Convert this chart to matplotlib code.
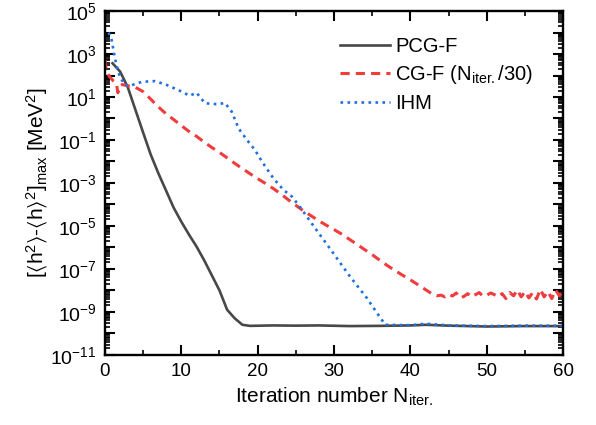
import numpy as np
import matplotlib
matplotlib.use("Agg")
import matplotlib.pyplot as plt
from matplotlib.ticker import LogLocator, FuncFormatter, MultipleLocator, NullFormatter

plt.rcParams['font.family'] = ['Liberation Sans', 'DejaVu Sans']
plt.rcParams['mathtext.fontset'] = 'custom'
plt.rcParams['mathtext.rm'] = 'Liberation Sans'
plt.rcParams['mathtext.it'] = 'Liberation Sans:italic'
plt.rcParams['mathtext.fallback'] = 'stixsans'
plt.rcParams['axes.unicode_minus'] = False

# data (values as log10)
pcg_iter = [1, 2, 3, 4, 5, 6, 7, 8, 9, 10, 11, 12, 13, 14, 15, 16, 17, 18, 19,
            22, 25, 28, 32, 36, 40, 42, 45, 50, 55, 60]
pcg_log = [2.57, 2.18, 1.45, 0.4, -0.65, -1.68, -2.55, -3.35, -4.15, -4.8, -5.4,
           -5.96, -6.6, -7.3, -8.0, -8.9, -9.3, -9.6, -9.65,
           -9.63, -9.64, -9.63, -9.66, -9.65, -9.63, -9.6, -9.64, -9.68, -9.66, -9.66]

cg_iter = [0, 0.2, 0.6, 1.1, 1.5, 1.7, 1.9, 2.3, 3.0, 4.0, 5.0, 6.0, 7.0, 8.0, 9.0,
           10, 11, 12, 13, 14, 15, 16, 17, 18, 19, 20, 21, 22, 23, 24, 25, 26, 27,
           28, 29, 30, 31, 32, 33, 34, 35, 36, 37, 38, 39, 40, 41, 42, 43,
           43.5, 44, 44.5, 45, 45.5, 46, 46.5, 47, 47.5, 48, 48.5, 49, 49.5, 50,
           50.5, 51, 51.5, 52, 52.5, 53, 53.5, 54, 54.5, 55, 55.5, 56, 56.5, 57,
           57.5, 58, 58.5, 59, 59.5, 60]
cg_log = [2.75, 2.2, 1.95, 1.75, 1.65, 1.2, 1.5, 1.58, 1.52, 1.45, 1.25, 0.9, 0.54,
          0.22, -0.05, -0.33, -0.6, -0.83, -1.1, -1.35, -1.58, -1.83, -2.09, -2.33,
          -2.57, -2.8, -3.02, -3.25, -3.5, -3.78, -4.04, -4.3, -4.53, -4.76, -4.97,
          -5.17, -5.38, -5.62, -5.86, -6.1, -6.34, -6.6, -6.85, -7.08, -7.3, -7.51,
          -7.74, -7.97, -8.2,
          -8.25, -8.22, -8.3, -8.18, -8.26, -8.12, -8.35, -8.28, -8.15, -8.3, -8.2,
          -8.1, -8.27, -8.22, -8.12, -8.2, -8.3, -8.15, -8.38, -8.1, -8.25, -7.98,
          -8.3, -8.05, -8.35, -8.1, -8.4, -7.95, -8.3, -8.05, -8.38, -7.98, -8.25,
          -8.05]

ihm_iter = [0.5, 0.88, 1.2, 1.5, 1.97, 2.6, 3.3, 4.15, 5.0, 6.55, 8.1, 9.8, 11.1,
            12.0, 13.1, 14.85, 15.7, 16.6, 17.5, 18.6, 19.65, 20.7, 22.05, 23.4,
            24.5, 25.5, 27.7, 29.9, 32.1, 34.3, 35.8, 36.7, 40, 42, 45, 50, 55, 60]
ihm_log = [4.0, 3.65, 3.03, 2.49, 1.94, 1.56, 1.51, 1.64, 1.71, 1.74, 1.56, 1.29,
           1.06, 1.2, 0.71, 0.66, 0.73, 0.32, -0.46, -1.0, -1.47, -2.08, -2.78,
           -3.33, -3.64, -4.1, -5.19, -6.27, -7.36, -8.36, -9.14, -9.6, -9.62,
           -9.55, -9.63, -9.66, -9.64, -9.65]

fig = plt.figure(figsize=(5.96, 4.25), dpi=100)
ax = fig.add_axes([0.176, 0.165, 0.769, 0.809])

ax.plot(pcg_iter, 10 ** np.array(pcg_log), '-', color='#484848', lw=1.9, label='PCG-F')
ax.plot(cg_iter, 10 ** np.array(cg_log), '--', color='#f03c3c', lw=2.2,
        dashes=(3, 2), label=r'CG-F (N$_{\rm iter.}$/30)')
ax.plot(ihm_iter, 10 ** np.array(ihm_log), ':', color='#1f6fe0', lw=1.9,
        label='IHM')

ax.set_yscale('log')
ax.set_xlim(0, 60)
ax.set_ylim(1e-11, 1e5)

ax.xaxis.set_major_locator(MultipleLocator(10))
ax.xaxis.set_minor_locator(MultipleLocator(5))
ax.yaxis.set_major_locator(LogLocator(base=10, numticks=30))
ax.yaxis.set_minor_locator(LogLocator(base=10, subs=np.arange(2, 10), numticks=30))
ax.yaxis.set_minor_formatter(NullFormatter())


def yfmt(v, pos):
    e = int(round(np.log10(v)))
    if e % 2 == 0:
        return ''
    return r'$\mathregular{10^{%d}}$' % e


ax.yaxis.set_major_formatter(FuncFormatter(yfmt))

for s in ax.spines.values():
    s.set_linewidth(1.7)
ax.tick_params(which='both', direction='in', top=True, right=True)
ax.tick_params(axis='x', labelsize=13.5)
ax.tick_params(axis='y', labelsize=14)
ax.tick_params(which='major', length=7, width=1.5, pad=6)
ax.tick_params(which='minor', length=3.5, width=1.2)

ax.set_xlabel(r'Iteration number N$_{\rm iter.}$', fontsize=15, labelpad=4)
ax.set_ylabel(r'[$\langle$h$^2\rangle$-$\langle$h$\rangle^2$]$_{\rm max}$ [MeV$^2$]',
              fontsize=15, labelpad=0)

ax.legend(loc='upper left', bbox_to_anchor=(0.513, 0.925), frameon=False,
          fontsize=14.5, handlelength=2.5, handletextpad=0.25, labelspacing=0.38,
          borderpad=0, borderaxespad=0)

fig.savefig('out.png', dpi=100)
